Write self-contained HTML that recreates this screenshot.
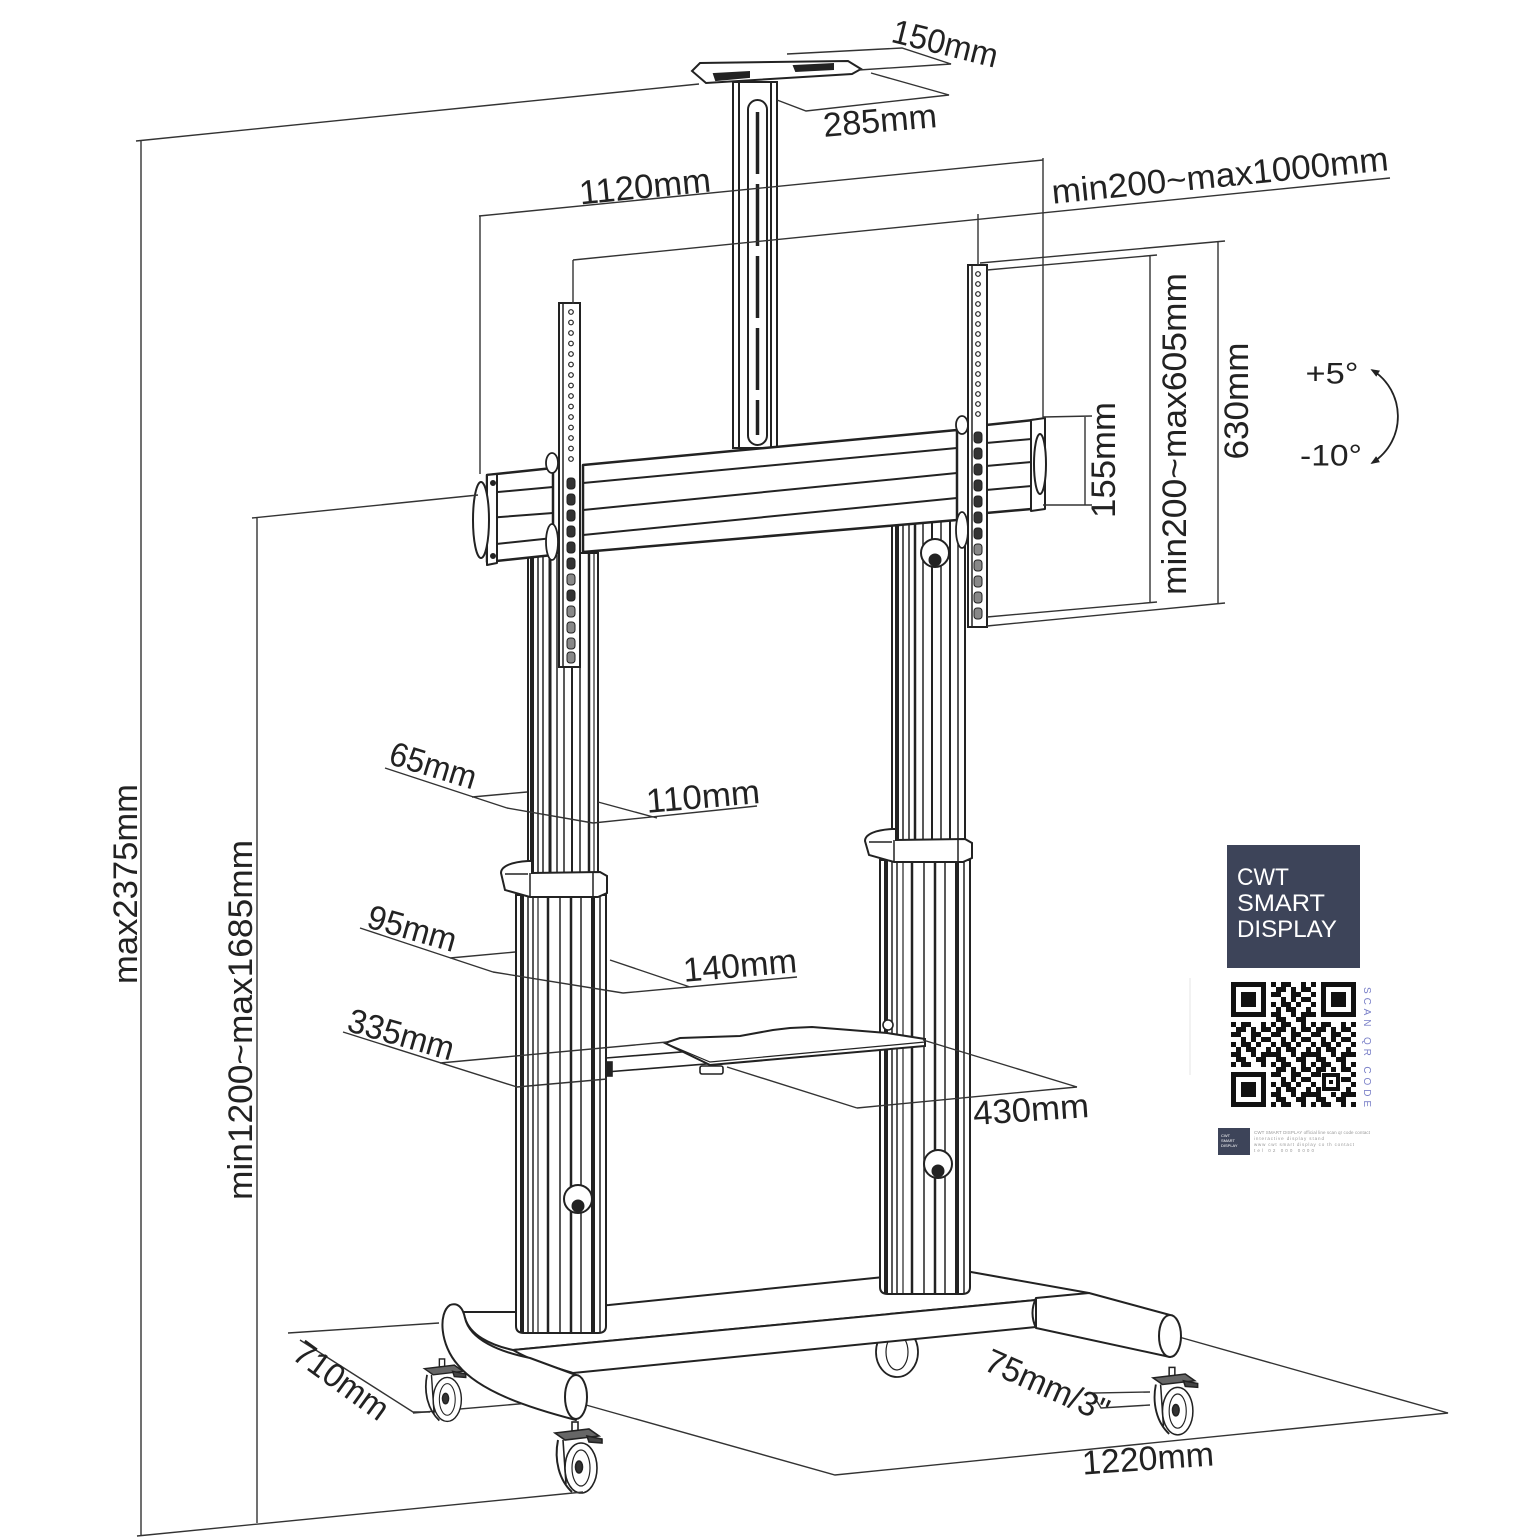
<!DOCTYPE html>
<html><head><meta charset="utf-8">
<style>
html,body{margin:0;padding:0;background:#fff;}
svg{display:block;}
text{font-family:"Liberation Sans",Arial,sans-serif;fill:#222;}
.lb{font-size:34px;text-anchor:middle;dominant-baseline:central;}
</style></head>
<body>
<svg width="1524" height="1540" viewBox="0 0 1524 1540" xmlns="http://www.w3.org/2000/svg">
<defs>
 <pattern id="qr" x="1231" y="982" width="40" height="40" patternUnits="userSpaceOnUse">
  <path fill="#111" d="M0,0h5v5h-5z M10,0h10v5h-10z M30,0h5v5h-5z M5,5h10v5h-10z M20,5h5v5h-5z M30,5h10v5h-10z M0,10h10v5h-10z M20,10h10v5h-10z M10,15h5v5h-5z M20,15h5v5h-5z M30,15h10v5h-10z M0,20h5v5h-5z M10,20h10v5h-10z M25,20h5v5h-5z M5,25h5v5h-5z M15,25h10v5h-10z M35,25h5v5h-5z M0,30h10v5h-10z M20,30h5v5h-5z M30,30h10v5h-10z M5,35h10v5h-10z M25,35h10v5h-10z"/>
 </pattern>
 <marker id="ah" viewBox="0 0 10 10" refX="8" refY="5" markerWidth="9" markerHeight="9" orient="auto-start-reverse" markerUnits="userSpaceOnUse">
  <path d="M0,1 L10,5 L0,9 Z" fill="#222"/>
 </marker>
 <g id="caster" stroke="#222" stroke-width="1.6" fill="#fff">
  <rect x="-3" y="-8" width="6" height="9"/>
  <path d="M-20,3 L14,-1 L24,6 L-10,10 Z" fill="#666"/>
  <path d="M-17,10 C-21,30 -16,50 -3,62" fill="none" stroke-width="2"/>
  <path d="M-12,10 L-9,54" fill="none"/>
  <ellipse cx="6" cy="38" rx="16" ry="25"/>
  <ellipse cx="6" cy="38" rx="9" ry="18" fill="none" stroke-width="1.2"/>
  <ellipse cx="4" cy="37" rx="3.5" ry="6" fill="#333"/>
  <path d="M12,6 L27,9 L27,13 L14,12 Z" fill="#444"/>
 </g>
</defs>

<!-- floor outline lines -->
<g stroke="#333" stroke-width="1.4" fill="none">
 <path d="M288,1333 L439,1323"/>
 <path d="M300,1340 L413,1412 L430,1412"/>
 <path d="M413,1413 L565,1400"/>
 <path d="M586,1405 L835,1475 L1448,1413 L1179,1337"/>
 <path d="M1150,1392 L1092,1393 L1101,1408 L1150,1405"/>
</g>

<!-- casters (behind base) -->
<use href="#caster" transform="translate(442,1366) scale(0.88)"/>
<ellipse cx="897" cy="1352" rx="21" ry="25" fill="#fff" stroke="#222" stroke-width="1.8"/>
<ellipse cx="897" cy="1352" rx="11" ry="18" fill="none" stroke="#222" stroke-width="1.2"/>
<use href="#caster" transform="translate(575,1430)"/>
<use href="#caster" transform="translate(1172,1375) scale(0.95)"/>

<!-- base -->
<g stroke="#222" stroke-width="2" fill="#fff" stroke-linejoin="round">
 <path d="M462,1312 L519,1312 L609,1305 L884,1277 L971,1272 L1089,1293 L1036,1300 L513,1350 C490,1345 470,1335 465,1318 Z"/>
 <path d="M513,1350 L1036,1300 L1036,1327 L573,1373 C550,1366 530,1360 513,1350 Z"/>
 <path d="M1036,1298 L1089,1293 L1170,1315 L1170,1357 L1036,1328 Z"/>
 <path d="M1036,1298 Q1029,1313 1036,1328" fill="none"/>
 <ellipse cx="1170" cy="1336" rx="11" ry="21"/>
 <path d="M450,1305 C458,1302 463,1308 465,1318 C470,1340 500,1352 530,1358 L576,1375 L576,1420 C530,1408 480,1392 458,1365 C440,1345 438,1313 450,1305 Z"/>
 <ellipse cx="576" cy="1397" rx="11" ry="22"/>
</g>

<!-- ceiling pole -->
<g stroke="#222" stroke-width="2" fill="#fff">
 <rect x="733" y="82" width="44" height="366"/>
 <line x1="739" y1="82" x2="739" y2="448"/>
 <line x1="771" y1="82" x2="771" y2="448"/>
 <rect x="748" y="100" width="19" height="345" rx="9.5" fill="none"/>
 <line x1="757.5" y1="112" x2="757.5" y2="435" stroke-width="3.5" stroke-dasharray="62 10"/>
 <polygon points="692,71 700,63 848,61 861,69 852,74 706,83"/>
 <polygon points="714,74 749,72 749,77 716,80" fill="#222"/>
 <polygon points="794,66 833,64 833,69 796,71" fill="#222"/>
</g>

<!-- columns -->
<g stroke="#222" fill="#fff">
 <rect x="528" y="553" width="70" height="320" stroke-width="2"/>
 <g stroke-width="1.5">
  <line x1="532" y1="553" x2="532" y2="873" stroke-width="4"/>
  <line x1="538" y1="553" x2="538" y2="873"/>
  <line x1="543" y1="553" x2="543" y2="873"/>
  <line x1="550" y1="553" x2="550" y2="873" stroke-width="3"/>
  <line x1="557" y1="553" x2="557" y2="873"/>
  <line x1="564" y1="553" x2="564" y2="873"/>
  <line x1="572" y1="553" x2="572" y2="873" stroke-width="2"/>
  <line x1="580" y1="553" x2="580" y2="873"/>
  <line x1="589" y1="553" x2="589" y2="873" stroke-width="2.5"/>
  <line x1="594" y1="553" x2="594" y2="873" stroke-width="1.2"/>
 </g>
 <path d="M516,895 L516,1326 Q516,1333 524,1333 L598,1333 Q606,1333 606,1326 L606,895 Z" stroke-width="2"/>
 <g stroke-width="1.5">
  <line x1="522" y1="895" x2="522" y2="1332" stroke-width="4"/>
  <line x1="528" y1="895" x2="528" y2="1332"/>
  <line x1="533" y1="895" x2="533" y2="1332"/>
  <line x1="538" y1="895" x2="538" y2="1332" stroke-width="1.2"/>
  <line x1="548" y1="895" x2="548" y2="1332" stroke-width="2.5"/>
  <line x1="560" y1="895" x2="560" y2="1332"/>
  <line x1="571" y1="895" x2="571" y2="1332" stroke-width="2.5"/>
  <line x1="581" y1="895" x2="581" y2="1332"/>
  <line x1="593" y1="895" x2="593" y2="1332" stroke-width="4"/>
  <line x1="600" y1="895" x2="600" y2="1332"/>
 </g>
 <rect x="892" y="520" width="73" height="320" stroke-width="2"/>
 <g stroke-width="1.5">
  <line x1="897" y1="520" x2="897" y2="840" stroke-width="4"/>
  <line x1="903" y1="520" x2="903" y2="840"/>
  <line x1="909" y1="520" x2="909" y2="840"/>
  <line x1="915" y1="520" x2="915" y2="840" stroke-width="2.5"/>
  <line x1="923" y1="520" x2="923" y2="840"/>
  <line x1="932" y1="520" x2="932" y2="840" stroke-width="2"/>
  <line x1="941" y1="520" x2="941" y2="840"/>
  <line x1="950" y1="520" x2="950" y2="840" stroke-width="2"/>
  <line x1="958" y1="520" x2="958" y2="840"/>
 </g>
 <path d="M880,860 L880,1287 Q880,1294 888,1294 L962,1294 Q970,1294 970,1287 L970,860 Z" stroke-width="2"/>
 <g stroke-width="1.5">
  <line x1="886" y1="860" x2="886" y2="1293" stroke-width="4"/>
  <line x1="892" y1="860" x2="892" y2="1293"/>
  <line x1="897" y1="860" x2="897" y2="1293"/>
  <line x1="903" y1="860" x2="903" y2="1293" stroke-width="1.2"/>
  <line x1="912" y1="860" x2="912" y2="1293" stroke-width="2.5"/>
  <line x1="924" y1="860" x2="924" y2="1293"/>
  <line x1="935" y1="860" x2="935" y2="1293" stroke-width="2.5"/>
  <line x1="945" y1="860" x2="945" y2="1293"/>
  <line x1="957" y1="860" x2="957" y2="1293" stroke-width="4"/>
  <line x1="964" y1="860" x2="964" y2="1293"/>
 </g>
 <circle cx="578" cy="1199" r="14" stroke-width="2"/>
 <circle cx="578" cy="1206" r="6" fill="#222"/>
 <circle cx="938" cy="1164" r="14" stroke-width="2"/>
 <circle cx="938" cy="1171" r="6" fill="#222"/>
 <circle cx="935" cy="553" r="14" stroke-width="2"/>
 <circle cx="935" cy="560" r="6" fill="#222"/>
 <path d="M501,873 C501,866 512,862 528,861 L532,861 L532,873 L600,872 L607,876 L607,893 L598,897 L530,897 L505,890 Z" stroke-width="2"/>
 <path d="M530,873 L530,897 M593,873 L593,897 M505,874 L528,874" fill="none" stroke-width="1.5"/>
 <path d="M865,841 C865,834 876,830 892,829 L896,829 L896,840 L965,839 L972,843 L972,858 L963,862 L894,862 L869,855 Z" stroke-width="2"/>
 <path d="M894,840 L894,862 M958,840 L958,862 M869,842 L892,842" fill="none" stroke-width="1.5"/>
</g>

<!-- shelf & rails -->
<g stroke="#222" stroke-width="1.6" fill="#fff">
 <path d="M606,1058 L880,1036 M606,1072 L880,1050" fill="none"/>
 <rect x="606" y="1062" width="6" height="14" fill="#222"/>
 <path d="M665,1043 L680,1038 L740,1036 L773,1030 L790,1028 L812,1027 L850,1030 L887,1033 L925,1039 L925,1046 L710,1065 Z" stroke-width="2"/>
 <path d="M665,1043 L710,1062 L925,1042" fill="none" stroke-width="1.2"/>
 <rect x="700" y="1066" width="23" height="8" rx="2"/>
 <circle cx="888" cy="1025" r="5"/>
</g>

<!-- crossbar -->
<g stroke="#222" stroke-width="2.5" fill="#fff" stroke-linejoin="round">
 <polygon points="583,465 957,430 957,520 583,552"/>
 <path d="M583,483 L957,448 M583,510 L957,473 M583,535 L957,498" fill="none" stroke-width="2"/>
 <polygon points="487,475 553,468 553,555 487,562"/>
 <path d="M487,493 L553,487 M487,518 L553,513 M487,545 L553,538" fill="none" stroke-width="2"/>
 <path d="M487,475 L497,474 L497,563 L487,565 Z" stroke-width="2"/>
 <ellipse cx="481" cy="520" rx="8" ry="38" stroke-width="2"/>
 <polygon points="986,425 1043,419 1043,508 986,513"/>
 <path d="M986,443 L1043,438 M986,466 L1043,461 M986,490 L1043,485" fill="none" stroke-width="2"/>
 <path d="M1031,420 L1045,418 L1045,509 L1031,511 Z" stroke-width="2"/>
 <ellipse cx="1040" cy="464" rx="6" ry="30" stroke-width="2"/>
 <circle cx="493" cy="483" r="2.5" fill="#222" stroke-width="1"/>
 <circle cx="493" cy="556" r="2.5" fill="#222" stroke-width="1"/>
</g>

<!-- brackets -->
<g stroke="#222" fill="#fff">
 <ellipse cx="552" cy="463" rx="6" ry="10" stroke-width="1.8"/>
 <ellipse cx="552" cy="542" rx="6" ry="18" stroke-width="1.8"/>
 <ellipse cx="962" cy="425" rx="6" ry="9" stroke-width="1.8"/>
 <ellipse cx="962" cy="530" rx="6" ry="18" stroke-width="1.8"/>
 <rect x="559" y="303" width="21" height="364" stroke-width="2"/>
 <line x1="563" y1="303" x2="563" y2="667" stroke-width="1.5"/>
 <rect x="968" y="265" width="19" height="362" stroke-width="2"/>
 <line x1="972" y1="265" x2="972" y2="627" stroke-width="1.5"/>
 <g fill="none" stroke-width="1.2">
  <circle cx="571" cy="312" r="2.3"/><circle cx="571" cy="322.5" r="2.3"/><circle cx="571" cy="333" r="2.3"/><circle cx="571" cy="343.5" r="2.3"/><circle cx="571" cy="354" r="2.3"/><circle cx="571" cy="364.5" r="2.3"/><circle cx="571" cy="375" r="2.3"/><circle cx="571" cy="385.5" r="2.3"/><circle cx="571" cy="396" r="2.3"/><circle cx="571" cy="406.5" r="2.3"/><circle cx="571" cy="417" r="2.3"/><circle cx="571" cy="427.5" r="2.3"/><circle cx="571" cy="438" r="2.3"/><circle cx="571" cy="448.5" r="2.3"/><circle cx="571" cy="459" r="2.3"/>
  <circle cx="978" cy="274" r="2.3"/><circle cx="978" cy="284" r="2.3"/><circle cx="978" cy="294" r="2.3"/><circle cx="978" cy="304" r="2.3"/><circle cx="978" cy="314" r="2.3"/><circle cx="978" cy="324" r="2.3"/><circle cx="978" cy="334" r="2.3"/><circle cx="978" cy="344" r="2.3"/><circle cx="978" cy="354" r="2.3"/><circle cx="978" cy="364" r="2.3"/><circle cx="978" cy="374" r="2.3"/><circle cx="978" cy="384" r="2.3"/><circle cx="978" cy="394" r="2.3"/><circle cx="978" cy="404" r="2.3"/><circle cx="978" cy="414" r="2.3"/>
 </g>
 <g fill="#333" stroke-width="1">
  <rect x="567" y="478" width="8" height="11" rx="3"/><rect x="567" y="494" width="8" height="11" rx="3"/><rect x="567" y="510" width="8" height="11" rx="3"/><rect x="567" y="526" width="8" height="11" rx="3"/><rect x="567" y="542" width="8" height="11" rx="3"/><rect x="567" y="558" width="8" height="11" rx="3"/>
  <rect x="567" y="574" width="8" height="11" rx="3" fill="#888"/><rect x="567" y="590" width="8" height="11" rx="3"/><rect x="567" y="606" width="8" height="11" rx="3" fill="#888"/><rect x="567" y="622" width="8" height="11" rx="3" fill="#888"/><rect x="567" y="638" width="8" height="11" rx="3" fill="#888"/><rect x="567" y="652" width="8" height="11" rx="3" fill="#888"/>
  <rect x="974" y="432" width="8" height="11" rx="3"/><rect x="974" y="448" width="8" height="11" rx="3"/><rect x="974" y="464" width="8" height="11" rx="3"/><rect x="974" y="480" width="8" height="11" rx="3"/><rect x="974" y="496" width="8" height="11" rx="3"/><rect x="974" y="512" width="8" height="11" rx="3"/>
  <rect x="974" y="528" width="8" height="11" rx="3"/><rect x="974" y="544" width="8" height="11" rx="3" fill="#888"/><rect x="974" y="560" width="8" height="11" rx="3" fill="#888"/><rect x="974" y="576" width="8" height="11" rx="3" fill="#888"/><rect x="974" y="592" width="8" height="11" rx="3" fill="#888"/><rect x="974" y="608" width="8" height="11" rx="3" fill="#888"/>
 </g>
</g>

<!-- dimension lines -->
<g stroke="#333" stroke-width="1.4" fill="none">
 <path d="M136,141 L699,84 M141,141 L141,1536 M137,1536 L583,1492"/>
 <path d="M252,518 L478,495 M257,518 L257,1523"/>
 <path d="M479,216 L1043,160 M480,216 L480,474 M1043,158 L1043,418"/>
 <path d="M573,260 L1390,178 M573,260 L573,304 M978,214 L978,265"/>
 <path d="M787,54 L902,48 L951,64 L859,70"/>
 <path d="M871,73 L949,95 L806,111 L777,100"/>
 <path d="M1043,417 L1092,416 M1043,505 L1092,505 M1085,416 L1085,505"/>
 <path d="M987,270 L1157,255 M987,617 L1157,602 M1150,255 L1150,602"/>
 <path d="M980,263 L1225,241 M987,626 L1225,603 M1218,241 L1218,603"/>
 <path d="M385,768 L507,808 M472,797 L527,792 M507,808 L593,823 M598,802 L657,818 M593,823 L757,806"/>
 <path d="M360,928 L493,972 M450,958 L515,952 M493,972 L623,993 M610,960 L690,987 M623,993 L797,977"/>
 <path d="M343,1032 L517,1087 M440,1063 L667,1042 M517,1087 L607,1079"/>
 <path d="M727,1067 L857,1108 M923,1040 L1077,1087 M857,1108 L1077,1087"/>
 <path d="M1372,370 C1405,390 1408,440 1372,463" stroke="#222" stroke-width="1.8" marker-start="url(#ah)" marker-end="url(#ah)"/>
</g>

<!-- labels -->
<g>
 <text class="lb" transform="translate(945,44) rotate(14)" textLength="108" lengthAdjust="spacingAndGlyphs">150mm</text>
 <text class="lb" transform="translate(880,121) rotate(-5)" textLength="114" lengthAdjust="spacingAndGlyphs">285mm</text>
 <text class="lb" transform="translate(645,187) rotate(-5.7)" textLength="132" lengthAdjust="spacingAndGlyphs">1120mm</text>
 <text class="lb" transform="translate(1220,176) rotate(-5.7)" textLength="338" lengthAdjust="spacingAndGlyphs">min200~max1000mm</text>
 <text class="lb" transform="translate(1104,460) rotate(-90)" textLength="116" lengthAdjust="spacingAndGlyphs">155mm</text>
 <text class="lb" transform="translate(1175,434) rotate(-90)" textLength="322" lengthAdjust="spacingAndGlyphs">min200~max605mm</text>
 <text class="lb" transform="translate(1237,401) rotate(-90)" textLength="117" lengthAdjust="spacingAndGlyphs">630mm</text>
 <text class="lb" style="font-size:30px" transform="translate(1332,374)" textLength="53" lengthAdjust="spacingAndGlyphs">+5°</text>
 <text class="lb" style="font-size:30px" transform="translate(1331,456)" textLength="62" lengthAdjust="spacingAndGlyphs">-10°</text>
 <text class="lb" transform="translate(126,884) rotate(-90)" textLength="200" lengthAdjust="spacingAndGlyphs">max2375mm</text>
 <text class="lb" transform="translate(241,1020) rotate(-90)" textLength="360" lengthAdjust="spacingAndGlyphs">min1200~max1685mm</text>
 <text class="lb" transform="translate(433,766) rotate(17)" textLength="89" lengthAdjust="spacingAndGlyphs">65mm</text>
 <text class="lb" transform="translate(703,797) rotate(-5)" textLength="114" lengthAdjust="spacingAndGlyphs">110mm</text>
 <text class="lb" transform="translate(412,929) rotate(16)" textLength="91" lengthAdjust="spacingAndGlyphs">95mm</text>
 <text class="lb" transform="translate(740,966) rotate(-5)" textLength="114" lengthAdjust="spacingAndGlyphs">140mm</text>
 <text class="lb" transform="translate(401,1035) rotate(16)" textLength="109" lengthAdjust="spacingAndGlyphs">335mm</text>
 <text class="lb" transform="translate(1031,1110) rotate(-4)" textLength="116" lengthAdjust="spacingAndGlyphs">430mm</text>
 <text class="lb" transform="translate(341,1381) rotate(36)" textLength="109" lengthAdjust="spacingAndGlyphs">710mm</text>
 <text class="lb" transform="translate(1047,1386) rotate(24)" textLength="132" lengthAdjust="spacingAndGlyphs">75mm/3"</text>
 <text class="lb" transform="translate(1148,1459) rotate(-4)" textLength="132" lengthAdjust="spacingAndGlyphs">1220mm</text>
</g>

<!-- QR card -->
<g>
 <line x1="1190" y1="978" x2="1190" y2="1075" stroke="#e4e4e4" stroke-width="1"/>
 <rect x="1227" y="845" width="133" height="123" fill="#3d4459"/>
 <text x="1237" y="885" style="font-size:24px;fill:#fff" textLength="52" lengthAdjust="spacingAndGlyphs">CWT</text>
 <text x="1237" y="911" style="font-size:24px;fill:#fff" textLength="88" lengthAdjust="spacingAndGlyphs">SMART</text>
 <text x="1237" y="937" style="font-size:24px;fill:#fff" textLength="100" lengthAdjust="spacingAndGlyphs">DISPLAY</text>
 <rect x="1231" y="982" width="125" height="125" fill="url(#qr)"/>
 <rect x="1231" y="982" width="40" height="40" fill="#fff"/>
 <rect x="1231" y="982" width="35" height="35" fill="#111"/>
 <rect x="1236" y="987" width="25" height="25" fill="#fff"/>
 <rect x="1241" y="992" width="15" height="15" fill="#111"/>
 <rect x="1316" y="982" width="40" height="40" fill="#fff"/>
 <rect x="1321" y="982" width="35" height="35" fill="#111"/>
 <rect x="1326" y="987" width="25" height="25" fill="#fff"/>
 <rect x="1331" y="992" width="15" height="15" fill="#111"/>
 <rect x="1231" y="1067" width="40" height="40" fill="#fff"/>
 <rect x="1231" y="1072" width="35" height="35" fill="#111"/>
 <rect x="1236" y="1077" width="25" height="25" fill="#fff"/>
 <rect x="1241" y="1082" width="15" height="15" fill="#111"/>
 <rect x="1321" y="1072" width="20" height="20" fill="#fff"/>
 <rect x="1322" y="1073" width="18" height="18" fill="#111"/>
 <rect x="1326" y="1077" width="10" height="10" fill="#fff"/>
 <rect x="1329" y="1080" width="4" height="4" fill="#111"/>
 <text transform="translate(1364,1047) rotate(90)" style="font-size:10px;fill:#7a80c8;text-anchor:middle" textLength="120" lengthAdjust="spacing">SCAN  QR  CODE</text>
 <rect x="1218" y="1128" width="32" height="27" fill="#3d4459"/>
 <text x="1221" y="1137" style="font-size:4px;fill:#fff">CWT</text>
 <text x="1221" y="1142" style="font-size:4px;fill:#fff">SMART</text>
 <text x="1221" y="1147" style="font-size:4px;fill:#fff">DISPLAY</text>
 <text x="1254" y="1134" style="font-size:4.5px;fill:#999" textLength="116">CWT SMART DISPLAY official line scan qr code contact</text>
 <text x="1254" y="1140" style="font-size:4.5px;fill:#999" textLength="70">interactive display stand</text>
 <text x="1254" y="1146" style="font-size:4.5px;fill:#999" textLength="100">www cwt smart display co th contact</text>
 <text x="1254" y="1152" style="font-size:4.5px;fill:#999" textLength="60">tel 02 000 0000</text>
</g>
</svg>
</body></html>
